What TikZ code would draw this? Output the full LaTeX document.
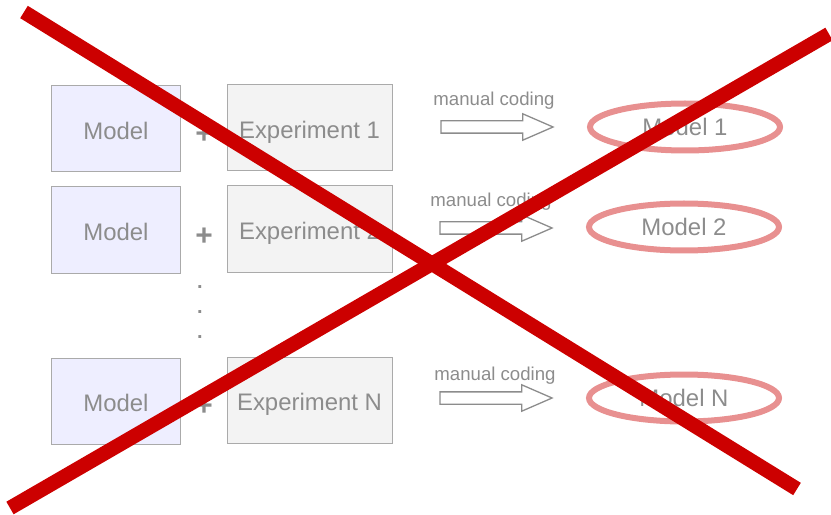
\documentclass[tikz,border=0pt]{standalone}
\usepackage{fontspec}
\setmainfont{Liberation Sans}
\usetikzlibrary{shapes.geometric,shapes.arrows}

\definecolor{labelgray}{HTML}{8C8C8C}
\definecolor{boxline}{HTML}{AAAAAA}
\definecolor{modelfill}{HTML}{EEEEFF}
\definecolor{expfill}{HTML}{F3F3F3}
\definecolor{ringred}{HTML}{E89090}
\definecolor{crossred}{HTML}{CC0000}

\begin{document}
\begin{tikzpicture}[x=1bp,y=-1bp]

\tikzstyle{model} = [rectangle, draw=boxline, fill=modelfill, line width=1bp, minimum width=128bp, minimum height=86bp, text height=21bp, text depth=0pt, text=labelgray, font=\fontsize{24}{28}\selectfont]
\tikzstyle{experiment} = [rectangle, draw=boxline, fill=expfill, line width=1bp, minimum width=165bp, minimum height=86bp, text height=21bp, text depth=0pt, text=labelgray, font=\fontsize{24}{28}\selectfont]
\tikzstyle{plus} = [text=labelgray, inner sep=0pt, font=\bfseries\fontsize{30}{34}\selectfont]
\tikzstyle{dot} = [text=labelgray, inner sep=0pt, font=\bfseries\fontsize{20}{24}\selectfont]
\tikzstyle{coding} = [text=labelgray, font=\fontsize{18.7}{22}\selectfont]
\tikzstyle{codearrow} = [single arrow, draw=labelgray, line width=1.3bp, inner xsep=0pt, inner ysep=5.5bp, minimum height=112bp, minimum width=25bp, single arrow head extend=7bp, single arrow tip angle=47]
\tikzstyle{result} = [ellipse, draw=ringred, line width=6bp, minimum width=190bp, minimum height=47bp, inner sep=0pt, text depth=0pt, text=labelgray, font=\fontsize{24}{28}\selectfont]
\tikzstyle{cross} = [draw=crossred, line width=14.5bp]

\useasboundingbox (0,0) rectangle (831,515);

% first experiment
\node[model] (model1) at (116,129) {Model};
\node[plus] (plus1) at (204,135) {+};
\node[experiment] (exp1) at (309.5,128) {Experiment 1};
\node[coding] (coding1) at (494,101) {manual coding};
\node[codearrow] (arrow1) at (490,127) {};
\node[result] (result1) at (685,127) {Model 1};

% second experiment
\node[model] (model2) at (116,230) {Model};
\node[plus] (plus2) at (204,237) {+};
\node[experiment] (exp2) at (309.5,229) {Experiment 2};
\node[coding] (coding2) at (491,202) {manual coding};
\node[codearrow] (arrow2) at (489,228) {};
\node[result] (result2) at (684,227) {Model 2};

% the ones in between
\node[dot] (dot1) at (200,287) {.};
\node[dot] (dot2) at (200,312) {.};
\node[dot] (dot3) at (200,337) {.};

% last experiment
\node[model] (model3) at (116,401) {Model};
\node[plus] (plus3) at (204,407) {+};
\node[experiment] (exp3) at (309.5,400) {Experiment N};
\node[coding] (coding3) at (495,376) {manual coding};
\node[codearrow] (arrow3) at (489,398) {};
\node[result] (result3) at (684,398) {Model N};

% crossed out
\coordinate (xtl) at (24,12);
\coordinate (xbr) at (797,489);
\coordinate (xtr) at (829,34);
\coordinate (xbl) at (10,508);
\draw[cross] (xtl) -- (xbr);
\draw[cross] (xtr) -- (xbl);

\end{tikzpicture}
\end{document}
